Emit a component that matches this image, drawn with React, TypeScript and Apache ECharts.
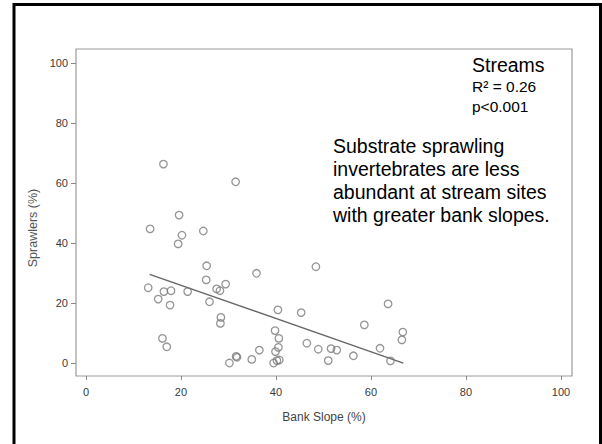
import React, { useEffect, useRef } from "react";
import * as echarts from "echarts";

// Bank slope (%) vs sprawlers (%)
const bankSlope: number[] = [
  16.3, 31.5, 19.6, 13.5, 24.7, 20.2, 19.4,
  25.4, 35.9, 25.3, 29.4, 27.5, 28.2, 13.1, 16.4, 17.9, 21.4, 15.2, 26.0, 17.7,
  28.4, 28.3, 16.1, 17.0, 31.6, 31.8, 30.2, 34.9, 36.5,
  48.4, 40.4, 45.3, 63.6, 58.6, 39.8, 40.6, 66.7, 66.5, 46.5, 40.5, 39.9, 48.9,
  51.6, 52.8, 61.9, 56.3, 51.0, 64.1, 40.7, 39.5, 40.2,
];
const sprawlers: number[] = [
  66.3, 60.4, 49.3, 44.7, 44.0, 42.6, 39.7,
  32.4, 29.9, 27.7, 26.3, 24.7, 24.1, 25.1, 23.8, 24.1, 23.8, 21.3, 20.4, 19.3,
  15.2, 13.2, 8.2, 5.4, 2.2, 1.9, 0.0, 1.2, 4.3,
  32.1, 17.7, 16.8, 19.7, 12.7, 10.8, 8.2, 10.3, 7.7, 6.6, 5.2, 3.8, 4.6,
  4.8, 4.3, 4.9, 2.4, 0.8, 0.7, 1.0, 0.0, 0.8,
];

// Fitted regression line
const fitIntercept = 37.0;
const fitSlope = -0.554;
const fitRange: number[] = [13.4, 66.8];

const tickValues: number[] = [0, 20, 40, 60, 80, 100];

const annotationTitle = "Streams";
const annotationStats: string[] = ["R\u00B2 = 0.26", "p<0.001"];
const annotationBody: string[] = [
  "Substrate sprawling",
  "invertebrates are less",
  "abundant at stream sites",
  "with greater bank slopes.",
];

export default function App() {
  const ref = useRef<HTMLDivElement>(null);

  useEffect(() => {
    if (!ref.current) return;
    const chart = echarts.init(ref.current, undefined, { renderer: "svg" });

    const points = bankSlope.map((x, i) => [x, sprawlers[i]]);
    const fitLine = fitRange.map((x) => [x, fitIntercept + fitSlope * x]);

    const labelFont = "'Liberation Sans Narrow', 'Liberation Sans', Arial, sans-serif";
    const textFont = "'Liberation Sans', Arial, sans-serif";

    const graphics: any[] = [
      {
        type: "rect",
        shape: { x: 14, y: 4.5, width: 586.5, height: 470 },
        style: { fill: "none", stroke: "#000", lineWidth: 3 },
        silent: true,
        z: 100,
      },
      {
        type: "text",
        x: 472,
        y: 65,
        style: {
          text: annotationTitle,
          font: `19.5px ${textFont}`,
          fill: "#000",
          verticalAlign: "middle",
          align: "left",
        },
      },
      ...annotationStats.map((t, i) => ({
        type: "text",
        x: 472,
        y: 86 + i * 20,
        style: {
          text: t,
          font: `15.5px ${textFont}`,
          fill: "#000",
          verticalAlign: "middle",
          align: "left",
        },
      })),
      ...annotationBody.map((t, i) => ({
        type: "text",
        x: 333,
        y: 146 + i * 23,
        style: {
          text: t,
          font: `19.5px ${textFont}`,
          fill: "#000",
          verticalAlign: "middle",
          align: "left",
        },
      })),
      {
        type: "text",
        x: 33,
        y: 228,
        rotation: Math.PI / 2,
        style: {
          text: "Sprawlers (%)",
          font: `12.5px ${textFont}`,
          fill: "#555",
          verticalAlign: "middle",
          align: "center",
        },
      },
      {
        type: "text",
        x: 324,
        y: 417,
        style: {
          text: "Bank Slope (%)",
          font: `12px ${labelFont}`,
          fill: "#444",
          verticalAlign: "middle",
          align: "center",
        },
      },
    ];

    chart.setOption({
      animation: false,
      backgroundColor: "#fff",
      grid: {
        left: 76,
        right: 30,
        top: 49,
        bottom: 68,
        show: true,
        borderColor: "#9a9a9a",
        borderWidth: 1.2,
      },
      xAxis: {
        type: "value",
        min: -2.105,
        max: 102.32,
        axisLine: { show: false, onZero: false },
        splitLine: { show: false },
        axisTick: {
          show: true,
          length: 4,
          inside: false,
          customValues: tickValues,
          lineStyle: { color: "#888" },
        },
        axisLabel: {
          customValues: tickValues,
          margin: 10,
          fontSize: 11,
          fontFamily: labelFont,
          color: "#3a3a3a",
        },
      },
      yAxis: {
        type: "value",
        min: -4.33,
        max: 104.67,
        axisLine: { show: false, onZero: false },
        splitLine: { show: false },
        axisTick: {
          show: true,
          length: 5,
          inside: false,
          customValues: tickValues,
          lineStyle: { color: "#888" },
        },
        axisLabel: {
          customValues: tickValues,
          margin: 8,
          fontSize: 11,
          fontFamily: labelFont,
          color: "#3a3a3a",
        },
      },
      series: [
        {
          type: "scatter",
          data: points,
          symbol: "circle",
          symbolSize: 7.5,
          itemStyle: {
            color: "rgba(255,255,255,0)",
            borderColor: "#7a7a7a",
            borderWidth: 1.3,
          },
          z: 3,
        },
        {
          type: "line",
          data: fitLine,
          showSymbol: false,
          symbol: "none",
          lineStyle: { color: "#666", width: 1.3 },
          z: 2,
        },
      ],
      graphic: graphics,
    });

    return () => chart.dispose();
  }, []);

  return (
    <div
      ref={ref}
      style={{ position: "fixed", left: 0, top: 0, width: 602, height: 444 }}
    />
  );
}
